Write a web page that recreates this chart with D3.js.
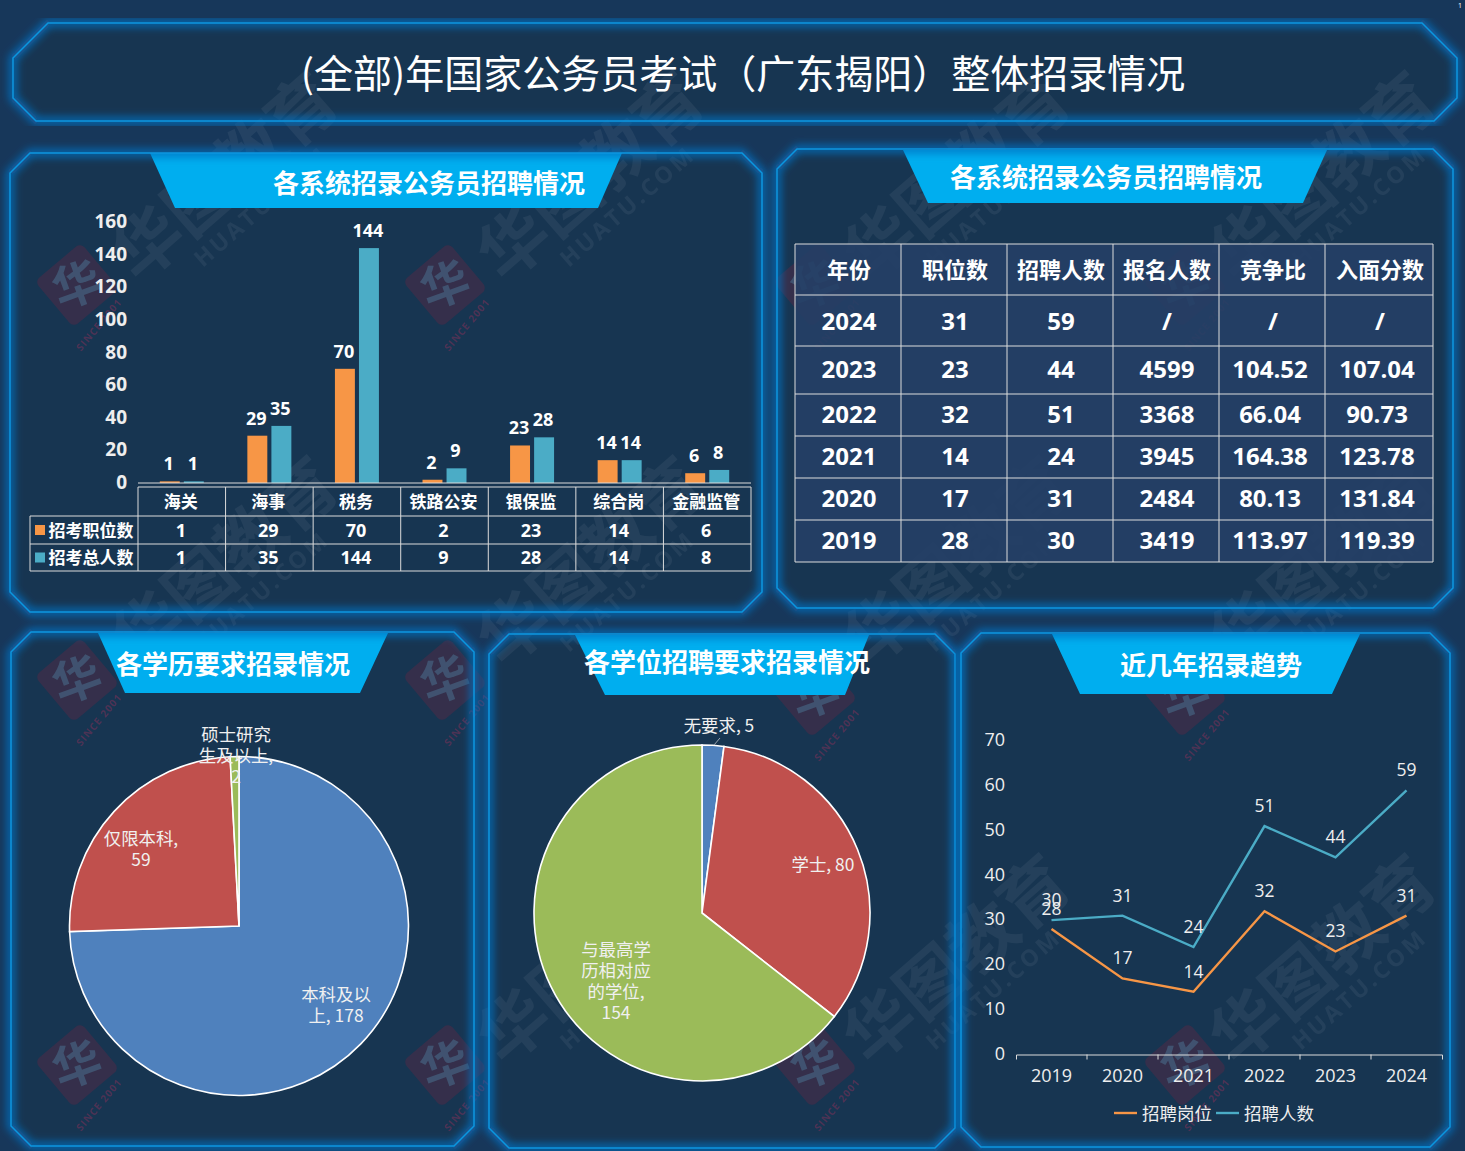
<!DOCTYPE html>
<html lang="zh">
	<head>
		<meta charset="UTF-8" />
		<title>整体招录情况</title>
		<script src="https://d3js.org/d3.v7.min.js"></script>
		<style>
			html, body {
				margin: 0;
				padding: 0;
				background: #17375a;
			}
			svg {
				display: block;
				fill: #fff;
			}
			text {
				font-family: "Open Sans", "Noto Sans CJK SC", sans-serif;
			}
			.cjk {
				font-family: "Noto Sans CJK SC", sans-serif;
			}
		</style>
	</head>
	<body>
		<svg id="chart" width="1465" height="1151"></svg>

		<script>
			// Data
			const PAGE_TITLE = "(全部)年国家公务员考试（广东揭阳）整体招录情况";

			const systems = ["海关", "海事", "税务", "铁路公安", "银保监", "综合岗", "金融监管"];
			const systemSeries = ["招考职位数", "招考总人数"];
			const positionCounts = [1, 29, 70, 2, 23, 14, 6];
			const applicantCounts = [1, 35, 144, 9, 28, 14, 8];
			const barTicks = [0, 20, 40, 60, 80, 100, 120, 140, 160];

			const tableHeader = ["年份", "职位数", "招聘人数", "报名人数", "竞争比", "入面分数"];
			const tableYears = ["2024", "2023", "2022", "2021", "2020", "2019"];
			const tablePositions = ["31", "23", "32", "14", "17", "28"];
			const tableHires = ["59", "44", "51", "24", "31", "30"];
			const tableApplicants = ["/", "4599", "3368", "3945", "2484", "3419"];
			const tableRatios = ["/", "104.52", "66.04", "164.38", "80.13", "113.97"];
			const tableScores = ["/", "107.04", "90.73", "123.78", "131.84", "119.39"];

			const degreeNames = ["本科及以上", "仅限本科", "硕士研究生及以上"];
			const degreeValues = [178, 59, 2];
			const degreeLabelLines = [["本科及以", "上, 178"], ["仅限本科,", "59"], ["硕士研究", "生及以上,", "2"]];

			const awardNames = ["无要求", "学士", "与最高学历相对应的学位"];
			const awardValues = [5, 80, 154];
			const awardLabelLines = [["无要求, 5"], ["学士, 80"], ["与最高学", "历相对应", "的学位,", "154"]];

			const trendYears = ["2019", "2020", "2021", "2022", "2023", "2024"];
			const trendSeries = ["招聘岗位", "招聘人数"];
			const trendPositions = [28, 17, 14, 32, 23, 31];
			const trendHires = [30, 31, 24, 51, 44, 59];
			const trendTicks = [0, 10, 20, 30, 40, 50, 60, 70];

			// Define constants
			const ORANGE = "#f79646";
			const TEAL = "#4bacc6";
			const PIE_COLORS = ["#4f81bd", "#c0504d", "#9bbb59"];
			const PANEL_FILL = "#173551";
			const TAB_FILL = "#00aeef";
			const FRAME = "#0a97e0";
			const GRID = "#dcdcdc";

			const svg = d3.select("#chart");
			const defs = svg.append("defs");
			defs.append("filter")
				.attr("id", "glow")
				.attr("x", "-5%")
				.attr("y", "-5%")
				.attr("width", "110%")
				.attr("height", "110%")
				.append("feGaussianBlur")
				.attr("stdDeviation", 4);

			svg.append("rect").attr("width", 1465).attr("height", 1151).attr("fill", "#17375a");

			// Frames
			function octagon(x0, y0, x1, y1, c) {
				return [
					[x0 + c, y0], [x1 - c, y0], [x1, y0 + c], [x1, y1 - c],
					[x1 - c, y1], [x0 + c, y1], [x0, y1 - c], [x0, y0 + c],
				];
			}
			const titleFrame = [[48, 23], [1422, 23], [1457, 58], [1457, 98], [1434, 121], [36, 121], [13, 98], [13, 58]];
			const panels = [
				{ frame: octagon(10, 153, 762, 612, 20), tab: [[150, 153], [622, 153], [598, 208], [175, 208]], title: "各系统招录公务员招聘情况", tx: 429, ty: 181 },
				{ frame: octagon(777, 149, 1453, 608, 20), tab: [[903, 150], [1327, 150], [1303, 203], [928, 203]], title: "各系统招录公务员招聘情况", tx: 1106, ty: 175 },
				{ frame: octagon(11, 632, 474, 1146, 20), tab: [[98, 633], [388, 633], [360, 693], [125, 693]], title: "各学历要求招录情况", tx: 233, ty: 662 },
				{ frame: octagon(489, 634, 955, 1148, 20), tab: [[575, 635], [869, 635], [845, 695], [605, 695]], title: "各学位招聘要求招录情况", tx: 727, ty: 660 },
				{ frame: octagon(961, 633, 1450, 1147, 20), tab: [[1052, 634], [1360, 634], [1332, 694], [1080, 694]], title: "近几年招录趋势", tx: 1211, ty: 663 },
			];
			const polyLine = (pts) => pts.map((p) => p.join(",")).join(" ");
			const allFrames = [titleFrame].concat(panels.map((d) => d.frame));

			const frames = svg.append("g");
			allFrames.forEach((pts) => {
				frames.append("polygon").attr("points", polyLine(pts)).attr("fill", PANEL_FILL);
			});

			// Watermarks
			const marks = svg.append("g").attr("class", "cjk");
			[241, 607, 973, 1339].forEach((x) => {
				[195, 580, 978].forEach((y) => {
					const big = marks.append("g").attr("transform", `translate(${x},${y}) rotate(-41)`).attr("opacity", 0.055);
					big.append("text").attr("text-anchor", "middle").attr("font-size", 68).attr("font-weight", 700).text("华图教育");
					big.append("text").attr("x", 8).attr("y", 30).attr("text-anchor", "middle").attr("font-size", 23).attr("font-weight", 700).attr("letter-spacing", 3).style("font-family", "Open Sans").text("HUATU.COM");
				});
			});
			[77, 445, 815, 1185].forEach((x, c) => {
				[285, c < 2 ? 680 : 695, 1065].forEach((y) => {
					const badge = marks.append("g").attr("transform", `translate(${x},${y})`);
					badge.append("rect").attr("x", -30).attr("y", -30).attr("width", 60).attr("height", 60).attr("rx", 6).attr("fill", "#7a2040").attr("opacity", 0.3).attr("transform", "rotate(50)");
					badge.append("text").attr("text-anchor", "middle").attr("y", 17).attr("font-size", 48).attr("font-weight", 700).attr("fill", "#5aa5c5").attr("opacity", 0.3).attr("transform", "rotate(-20)").text("华");
					badge.append("text").attr("text-anchor", "middle").attr("font-size", 10).attr("font-weight", 700).attr("letter-spacing", 1).attr("fill", "#a0305a").attr("opacity", 0.4).attr("transform", "translate(25,42) rotate(-50)").style("font-family", "Open Sans").text("SINCE 2001");
				});
			});

			// Tabs and glowing edges sit above the watermark
			const edges = svg.append("g");
			panels.forEach((d) => {
				edges.append("polygon").attr("points", polyLine(d.tab)).attr("fill", TAB_FILL);
			});
			allFrames.forEach((pts) => {
				edges.append("polygon").attr("points", polyLine(pts)).attr("fill", "none").attr("stroke", "#0b70c0").attr("stroke-width", 7).attr("filter", "url(#glow)");
				edges.append("polygon").attr("points", polyLine(pts)).attr("fill", "none").attr("stroke", FRAME).attr("stroke-width", 1.5);
			});

			// Titles
			svg.append("text").attr("class", "cjk").attr("x", 743).attr("y", 71).attr("text-anchor", "middle").attr("dominant-baseline", "central").attr("font-size", 39).text(PAGE_TITLE);
			svg.append("text").attr("x", 1460).attr("y", 8).attr("font-size", 7).attr("text-anchor", "middle").text("1");
			panels.forEach((d) => {
				svg.append("text").attr("class", "cjk").attr("x", d.tx).attr("y", d.ty).attr("text-anchor", "middle").attr("dominant-baseline", "central").attr("font-size", 26).attr("font-weight", 700).text(d.title);
			});

			// Bar chart
			const barX = d3.scaleBand().domain(systems).range([138, 751]);
			const barSeriesX = d3.scaleBand().domain(systemSeries).range([0, 44]).paddingInner(0.17);
			const barY = d3.scaleLinear().domain([0, 160]).range([483, 222]);
			const barInset = (barX.bandwidth() - 44) / 2;

			const barAxis = svg.append("g")
				.attr("transform", "translate(130,-0.5)")
				.call(d3.axisLeft(barY).tickValues(barTicks).tickSize(0).tickPadding(3));
			barAxis.select(".domain").remove();
			barAxis.selectAll("text").attr("font-size", 19).attr("font-weight", 700).style("font-family", "Open Sans").attr("fill", "#eee");

			[positionCounts, applicantCounts].forEach((values, s) => {
				const g = svg.append("g");
				const xOf = (i) => barX(systems[i]) + barInset + barSeriesX(systemSeries[s]);
				g.selectAll("rect")
					.data(values)
					.enter()
					.append("rect")
					.attr("x", (d, i) => xOf(i))
					.attr("y", (d) => barY(d))
					.attr("width", barSeriesX.bandwidth())
					.attr("height", (d) => barY(0) - barY(d))
					.attr("fill", s === 0 ? ORANGE : TEAL);
				g.selectAll("text")
					.data(values)
					.enter()
					.append("text")
					.attr("x", (d, i) => xOf(i) + barSeriesX.bandwidth() / 2 - 1)
					.attr("y", (d) => barY(d) - 18)
					.attr("text-anchor", "middle")
					.attr("dominant-baseline", "central")
					.attr("font-size", 18)
					.attr("font-weight", 700)
					.text((d) => d);
			});

			// Data table below the bars
			const dataTable = svg.append("g");
			const rowLines = [487, 516, 544, 571];
			const tableLine = (x1, y1, x2, y2, g = dataTable) =>
				g.append("line").attr("x1", x1).attr("y1", y1).attr("x2", x2).attr("y2", y2).attr("stroke", GRID).attr("stroke-width", 1);
			tableLine(138, 483, 751, 483);
			tableLine(138, 487, 751, 487);
			tableLine(30, 516, 751, 516);
			tableLine(30, 544, 751, 544);
			tableLine(30, 571, 751, 571);
			tableLine(30, 516, 30, 571);
			barX.domain().forEach((name) => tableLine(barX(name), 487, barX(name), 571));
			tableLine(751, 487, 751, 571);
			const cellText = (x, y, str, size, g = dataTable) =>
				g.append("text").attr("x", x).attr("y", y).attr("text-anchor", "middle").attr("dominant-baseline", "central").attr("font-size", size).attr("font-weight", 700).text(str);
			systems.forEach((name, i) => {
				const cx = barX(name) + barX.bandwidth() / 2 - 1;
				cellText(cx, 500.5, name, 17).attr("class", "cjk");
				cellText(cx, 529.5, positionCounts[i], 18);
				cellText(cx, 556.5, applicantCounts[i], 18);
			});
			systemSeries.forEach((name, s) => {
				const cy = (rowLines[s + 1] + rowLines[s + 2]) / 2;
				dataTable.append("rect").attr("x", 35).attr("y", cy - 5).attr("width", 10).attr("height", 10).attr("fill", s === 0 ? ORANGE : TEAL);
				cellText(91, cy - 1, name, 17).attr("class", "cjk");
			});

			// Recruitment table
			const colEdges = [795, 901, 1007, 1113, 1219, 1325, 1433];
			const rowEdges = [244, 295, 346, 394, 436, 478, 520, 562];
			const tableColumns = [tableYears, tablePositions, tableHires, tableApplicants, tableRatios, tableScores];
			const recruit = svg.append("g");
			recruit.append("rect")
				.attr("x", colEdges[0])
				.attr("y", rowEdges[0])
				.attr("width", colEdges[6] - colEdges[0])
				.attr("height", rowEdges[7] - rowEdges[0])
				.attr("fill", "#253f66")
				.attr("fill-opacity", 0.9);
			colEdges.forEach((x) => tableLine(x, rowEdges[0], x, rowEdges[7], recruit));
			rowEdges.forEach((y) => tableLine(colEdges[0], y, colEdges[6], y, recruit));
			tableHeader.forEach((name, c) => {
				const cx = (colEdges[c] + colEdges[c + 1]) / 2;
				cellText(cx + 1, (rowEdges[0] + rowEdges[1]) / 2 - 2, name, 22, recruit).attr("class", "cjk");
				tableColumns[c].forEach((val, r) => {
					const shift = val.includes(".") ? -2 : 1;
					const lift = r === 0 ? 0 : 2;
					cellText(cx + shift, (rowEdges[r + 1] + rowEdges[r + 2]) / 2 - lift, val, 24, recruit);
				});
			});

			// Pies
			function drawPie(cx, cy, radius, names, values, labelLines, labelPos) {
				const g = svg.append("g").attr("transform", `translate(${cx},${cy})`);
				const pie = d3.pie().sort(null)(values);
				const arc = d3.arc().innerRadius(0).outerRadius(radius);
				g.selectAll("path")
					.data(pie)
					.enter()
					.append("path")
					.attr("d", arc)
					.attr("fill", (d, i) => PIE_COLORS[i])
					.attr("stroke", "#fff")
					.attr("stroke-width", 1.6)
					.append("title")
					.text((d, i) => names[i]);
				labelLines.forEach((lines, i) => {
					lines.forEach((line, l) => {
						svg.append("text")
							.attr("x", labelPos[i][0])
							.attr("y", labelPos[i][1] + l * 21)
							.attr("text-anchor", "middle")
							.attr("dominant-baseline", "central")
							.attr("font-size", 17.4)
							.attr("class", "cjk")
							.attr("fill", "#f0f0f0")
							.text(line);
					});
				});
			}
			drawPie(239, 926, 169.5, degreeNames, degreeValues, degreeLabelLines, [[336, 993], [141, 837], [236, 733]]);
			drawPie(702, 913, 168, awardNames, awardValues, awardLabelLines, [[719, 724], [823, 863], [616, 948]]);
			svg.append("line").attr("x1", 714).attr("y1", 745).attr("x2", 720).attr("y2", 738).attr("stroke", "#9aa5b1").attr("stroke-width", 1);

			// Line chart
			const lineX = d3.scaleBand().domain(trendYears).range([1016, 1442]);
			const lineY = d3.scaleLinear().domain([0, 70]).range([1054.5, 741]);
			const xAxisLine = svg.append("g")
				.attr("transform", "translate(0,1054.5)")
				.call(d3.axisBottom(lineX).tickSizeInner(0).tickSizeOuter(5).tickPadding(15));
			xAxisLine.selectAll(".domain").attr("stroke", GRID);
			xAxisLine.selectAll("text").attr("font-size", 18).attr("fill", "#eee").style("font-family", "Open Sans");
			lineX.domain().forEach((year, i) => {
				if (i > 0) xAxisLine.append("line").attr("x1", lineX(year)).attr("x2", lineX(year)).attr("y1", 0).attr("y2", 5).attr("stroke", GRID);
			});
			const yAxisLine = svg.append("g")
				.attr("transform", "translate(1008,-1)")
				.call(d3.axisLeft(lineY).tickValues(trendTicks).tickSize(0).tickPadding(3));
			yAxisLine.select(".domain").remove();
			yAxisLine.selectAll("text").attr("font-size", 18).attr("fill", "#eee").style("font-family", "Open Sans");

			const linePath = d3.line()
				.x((d, i) => lineX(trendYears[i]) + lineX.bandwidth() / 2)
				.y((d) => lineY(d));
			[trendPositions, trendHires].forEach((values, s) => {
				svg.append("path").attr("d", linePath(values)).attr("fill", "none").attr("stroke", s === 0 ? ORANGE : TEAL).attr("stroke-width", 2.4);
				svg.append("g")
					.selectAll("text")
					.data(values)
					.enter()
					.append("text")
					.attr("x", (d, i) => lineX(trendYears[i]) + lineX.bandwidth() / 2)
					.attr("y", (d) => lineY(d) - 21)
					.attr("text-anchor", "middle")
					.attr("dominant-baseline", "central")
					.attr("font-size", 17.5)
					.attr("fill", "#eee")
					.text((d) => d);
			});

			// Legend
			const legendX = [1114, 1216];
			trendSeries.forEach((name, s) => {
				svg.append("line").attr("x1", legendX[s]).attr("x2", legendX[s] + 23).attr("y1", 1113).attr("y2", 1113).attr("stroke", s === 0 ? ORANGE : TEAL).attr("stroke-width", 2.4);
				svg.append("text").attr("class", "cjk").attr("x", legendX[s] + 28).attr("y", 1112).attr("dominant-baseline", "central").attr("font-size", 17.5).attr("fill", "#eee").text(name);
			});
		</script>
	</body>
</html>
